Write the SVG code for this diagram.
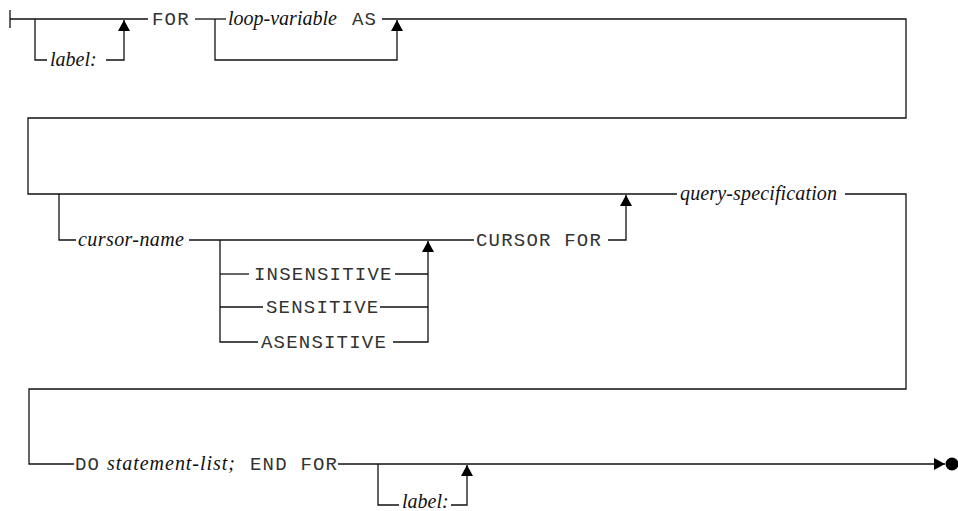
<svg xmlns="http://www.w3.org/2000/svg" width="958" height="511" viewBox="0 0 958 511">
<defs>
<marker id="arr" viewBox="0 -6 11 12" refX="11" refY="0" markerWidth="11" markerHeight="12" markerUnits="userSpaceOnUse" orient="auto">
<path d="M0,-6 L11,0 L0,6 z" fill="#000"/>
</marker>
<style>
.ln{fill:none;stroke:#111;stroke-width:1.3}
.ar{marker-end:url(#arr)}
.kw{font-family:"Liberation Mono","Courier New",monospace;font-size:19px;letter-spacing:1.2px;fill:#333}
.it{font-family:"Liberation Serif","Times New Roman",serif;font-style:italic;font-size:20px;fill:#111}
</style>
</defs>
<rect width="958" height="511" fill="#fff"/>
<g id="connectors">
<path class="ln" d="M10,10 V28"/>
<path class="ln" d="M10,19 H148"/>
<path class="ln" d="M35,19 V60 H47"/>
<path class="ln ar" d="M106,60 H124 V20"/>
<path class="ln" d="M195,19 H226"/>
<path class="ln ar" d="M215,19 V60 H397 V20"/>
<path class="ln" d="M382,19 H906 V118 H28 V194 H677"/>
<path class="ln" d="M845,194 H906 V389 H29 V464 H74"/>
<path class="ln" d="M59,194 V240 H76"/>
<path class="ln" d="M189,240 H474"/>
<path class="ln ar" d="M608,240 H626 V195"/>
<path class="ln" d="M220,240 V342 H258"/>
<path class="ln" d="M220,274 H249"/>
<path class="ln" d="M220,307 H263"/>
<path class="ln" d="M395,274 H428"/>
<path class="ln" d="M380,307 H428"/>
<path class="ln ar" d="M393,342 H428 V241"/>
<path class="ln ar" d="M338,464 H945"/>
<circle cx="952" cy="464" r="6.5" fill="#000"/>
<path class="ln" d="M378,464 V505 H399"/>
<path class="ln ar" d="M451,505 H467 V465"/>
</g>
<g id="n-label1"><text class="it" x="50" y="66">label:</text></g>
<g id="n-for"><text class="kw" x="152" y="25">FOR</text></g>
<g id="n-loopvar"><text class="it" x="228" y="25">loop-variable</text></g>
<g id="n-as"><text class="kw" x="352" y="25">AS</text></g>
<g id="n-query"><text class="it" x="680" y="200" textLength="157">query-specification</text></g>
<g id="n-cursorname"><text class="it" x="78" y="246" textLength="106">cursor-name</text></g>
<g id="n-cursorfor"><text class="kw" x="476" y="246">CURSOR FOR</text></g>
<g id="n-insensitive"><text class="kw" x="254" y="280">INSENSITIVE</text></g>
<g id="n-sensitive"><text class="kw" x="266" y="313">SENSITIVE</text></g>
<g id="n-asensitive"><text class="kw" x="261" y="348">ASENSITIVE</text></g>
<g id="n-do"><text y="470"><tspan class="kw" x="75">DO</tspan><tspan class="it" x="107" textLength="128">statement-list;</tspan><tspan class="kw" x="250">END FOR</tspan></text></g>
<g id="n-label2"><text class="it" x="402" y="508">label:</text></g>
</svg>
